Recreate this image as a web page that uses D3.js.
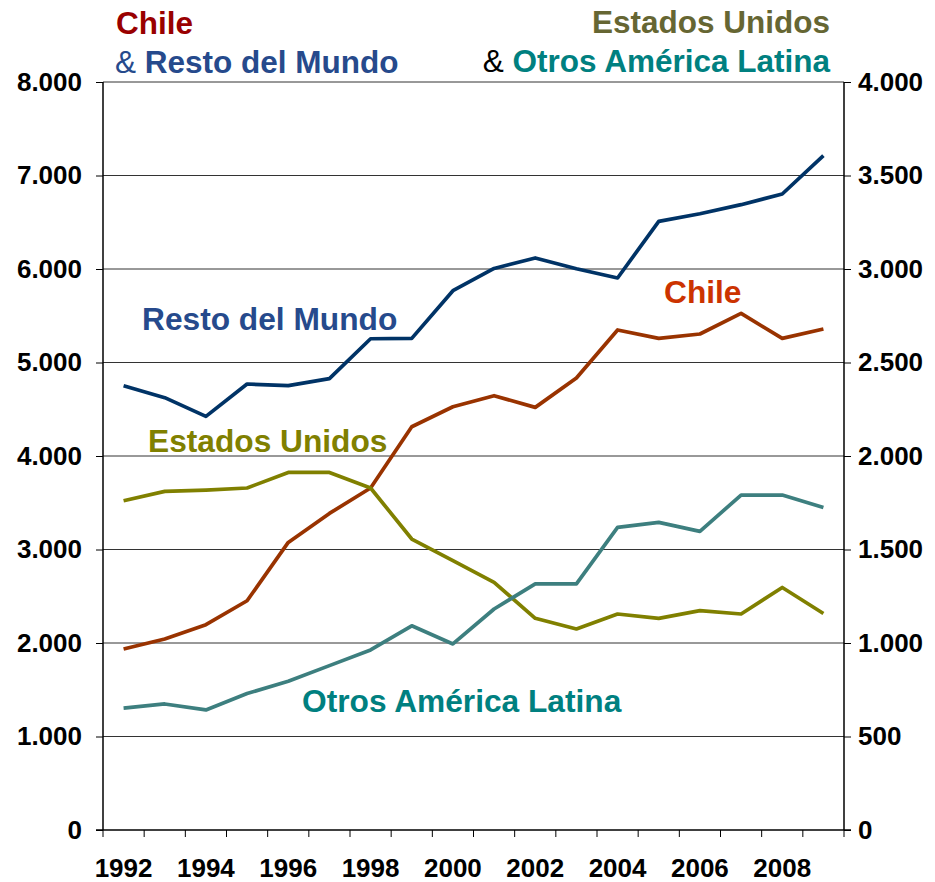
<html>
<head>
<style>
  body { margin: 0; background: #fff; }
  text { font-family: "Liberation Sans", Arial, sans-serif; font-weight: bold; }
</style>
</head>
<body>
<svg id="chart" width="935" height="882"></svg>
<script src="https://cdn.jsdelivr.net/npm/d3@7"></script>
<script>
  // years on the x axis
  let years = [1992,1993,1994,1995,1996,1997,1998,1999,2000,2001,2002,2003,2004,2005,2006,2007,2008,2009]
  // left axis series
  let chile = [1936,2043,2196,2452,3076,3386,3658,4313,4527,4645,4520,4834,5348,5258,5305,5525,5258,5358]
  let restoMundo = [4752,4624,4424,4770,4752,4827,5254,5258,5768,6006,6118,6003,5904,6509,6591,6688,6802,7212]
  // right axis series
  let estadosUnidos = [1761,1811,1818,1829,1912,1912,1829,1556,1440,1324,1132,1075,1155,1132,1173,1155,1297,1158]
  let otrosAL = [652,674,642,730,795,879,963,1092,995,1182,1316,1316,1618,1645,1597,1791,1791,1725]
  let leftTicks = [0,1000,2000,3000,4000,5000,6000,7000,8000]
  let rightTicks = [0,500,1000,1500,2000,2500,3000,3500,4000]
  let yearLabels = [1992,1994,1996,1998,2000,2002,2004,2006,2008]

  let svg = d3.select("#chart")
  let plotL = 103, plotR = 844, plotT = 82, plotB = 830

  let fmt = d3.formatLocale({decimal: ",", thousands: ".", grouping: [3], currency: ["", ""]}).format(",")

  let x = d3.scaleBand().domain(years).range([plotL, plotR])
  let yL = d3.scaleLinear().domain([0, 8000]).range([plotB, plotT])
  let yR = d3.scaleLinear().domain([0, 4000]).range([plotB, plotT])

  // grid lines
  svg.append("g").selectAll("line")
    .data(leftTicks.filter(d => d > 0))
    .enter().append("line")
    .attr("x1", plotL).attr("x2", plotR)
    .attr("y1", d => yL(d)).attr("y2", d => yL(d))
    .attr("stroke", "#333").attr("stroke-width", 1)

  // left axis
  let gl = svg.append("g").attr("transform", `translate(${plotL},0)`)
    .call(d3.axisLeft(yL).tickValues(leftTicks).tickFormat(fmt).tickSize(7).tickPadding(14))
  gl.selectAll("text").attr("font-size", 26).attr("fill", "#000")
  gl.select(".domain").attr("stroke", "#000").attr("stroke-width", 1.5)

  // right axis
  let gr = svg.append("g").attr("transform", `translate(${plotR},0)`)
    .call(d3.axisRight(yR).tickValues(rightTicks).tickFormat(fmt).tickSize(7).tickPadding(7))
  gr.selectAll("text").attr("font-size", 26).attr("fill", "#000")
  gr.select(".domain").attr("stroke", "#000").attr("stroke-width", 1.5)
  gl.selectAll(".domain").attr("d", `M0,${plotT}V${plotB}`)
  gr.selectAll(".domain").attr("d", `M0,${plotT}V${plotB}`)

  // bottom axis: ticks at category boundaries
  let bounds = years.map(d => x(d)).concat([plotR])
  svg.append("line").attr("x1", plotL - 7).attr("x2", plotR + 7).attr("y1", plotB).attr("y2", plotB)
    .attr("stroke", "#000").attr("stroke-width", 1.5)
  svg.append("g").selectAll("line").data(bounds).enter().append("line")
    .attr("x1", d => d).attr("x2", d => d).attr("y1", plotB).attr("y2", plotB + 7)
    .attr("stroke", "#000").attr("stroke-width", 1)
  svg.append("g").selectAll("text").data(yearLabels).enter().append("text")
    .attr("x", d => x(d) + x.bandwidth() / 2).attr("y", 877)
    .attr("text-anchor", "middle").attr("font-size", 26).attr("fill", "#000")
    .text(d => d)

  // lines
  let series = [
    {values: chile, scale: yL, color: "#993300"},
    {values: restoMundo, scale: yL, color: "#003366"},
    {values: estadosUnidos, scale: yR, color: "#808000"},
    {values: otrosAL, scale: yR, color: "#3d7f7f"}
  ]
  series.forEach(s => {
    let line = d3.line()
      .x((d, i) => x(years[i]) + x.bandwidth() / 2)
      .y(d => s.scale(d))
    svg.append("path").datum(s.values)
      .attr("d", line).attr("fill", "none")
      .attr("stroke", s.color).attr("stroke-width", 3.7)
      .attr("stroke-linejoin", "round")
  })

  // labels in the plot
  let labels = [
    {t: "Resto del Mundo", x: 142, y: 330, c: "#264a8c"},
    {t: "Chile", x: 664, y: 303, c: "#cc3300"},
    {t: "Estados Unidos", x: 148, y: 452, c: "#808000"},
    {t: "Otros América Latina", x: 302, y: 712, c: "#008080"}
  ]
  svg.append("g").selectAll("text").data(labels).enter().append("text")
    .attr("x", d => d.x).attr("y", d => d.y)
    .attr("font-size", 31.7).attr("fill", d => d.c)
    .text(d => d.t)

  // titles
  svg.append("text").attr("x", 116).attr("y", 34).attr("font-size", 31.5).attr("fill", "#990000").text("Chile")
  let t2 = svg.append("text").attr("x", 115).attr("y", 73).attr("font-size", 31.5)
  t2.append("tspan").attr("fill", "#264a8c").attr("font-weight", "normal").text("& ")
  t2.append("tspan").attr("fill", "#264a8c").text("Resto del Mundo")

  svg.append("text").attr("x", 830).attr("y", 33).attr("font-size", 31.5).attr("text-anchor", "end")
    .attr("fill", "#666633").text("Estados Unidos")
  let t4 = svg.append("text").attr("x", 830).attr("y", 72).attr("font-size", 31.5).attr("text-anchor", "end")
  t4.append("tspan").attr("fill", "#000").attr("font-weight", "normal").text("& ")
  t4.append("tspan").attr("fill", "#008080").text("Otros América Latina")
</script>
</body>
</html>
